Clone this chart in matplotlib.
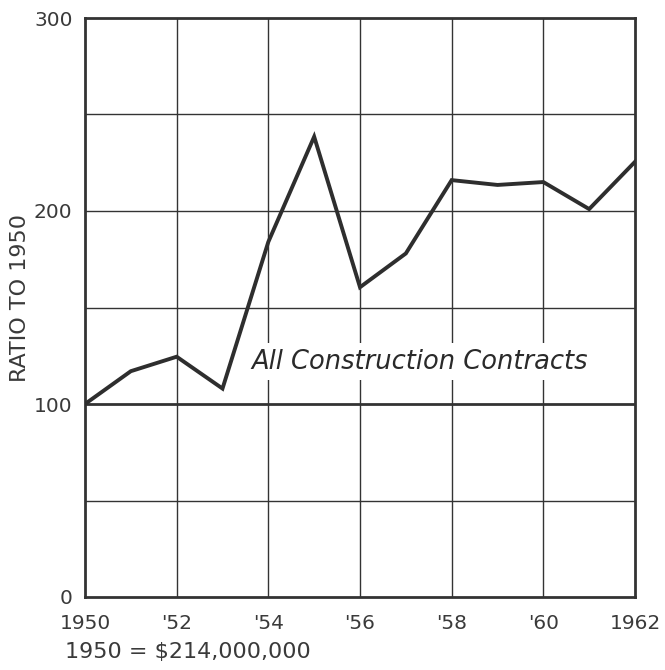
import matplotlib
matplotlib.use("Agg")
import matplotlib.pyplot as plt

years = [1950, 1951, 1952, 1953, 1954, 1955, 1956, 1957, 1958, 1959, 1960, 1961, 1962]
ratio = [100, 117, 124.5, 108, 184, 238.5, 160.5, 178, 216, 213.5, 215, 201, 225.5]
xtick_pos = [1950, 1952, 1954, 1956, 1958, 1960, 1962]
xtick_labels = ["1950", "'52", "'54", "'56", "'58", "'60", "1962"]
ytick_pos = [0, 100, 200, 300]
ytick_labels = ["0", "100", "200", "300"]
ygrid = [50, 150, 250]
series_label = "All Construction Contracts"
footnote = "1950 = $214,000,000"
ylabel = "RATIO TO 1950"

plt.rcParams['font.family'] = ['DejaVu Sans']
ink = "#333333"

fig = plt.figure(figsize=(6.65, 6.7), dpi=100)
ax = fig.add_axes([85/665, 1 - 597/670, (635-85)/665, (597-18)/670])
ax.set_xlim(1950, 1962)
ax.set_ylim(0, 300)

for x in xtick_pos[1:-1]:
    ax.axvline(x, color=ink, lw=1.0, zorder=1)
for y in ygrid + [200]:
    ax.axhline(y, color=ink, lw=1.0, zorder=1)
ax.axhline(100, color=ink, lw=2.0, zorder=1)

ax.plot(years, ratio, color="#2e2e2e", lw=2.8, solid_joinstyle="miter", zorder=3)

ax.text(1957.3, 122, series_label, fontsize=18.5, style="italic", color="#2a2a2a",
        ha="center", va="center", zorder=2,
        bbox=dict(facecolor="white", edgecolor="none", pad=4))

ax.set_xticks(xtick_pos)
ax.set_xticklabels(xtick_labels)
ax.set_yticks(ytick_pos)
ax.set_yticklabels(ytick_labels)
ax.tick_params(length=0, labelsize=14.5, colors="#3a3a3a", pad=9)
ax.tick_params(axis="x", pad=12)

for s in ax.spines.values():
    s.set_linewidth(2.0)
    s.set_color(ink)

fig.text(20/665, 1 - 298/670, ylabel, rotation=90, fontsize=16, color="#3a3a3a",
         ha="center", va="center")
fig.text(65/665, 1 - 652/670, footnote, fontsize=16, color="#3a3a3a",
         ha="left", va="center")

fig.savefig("out.png", dpi=100, facecolor="white")
